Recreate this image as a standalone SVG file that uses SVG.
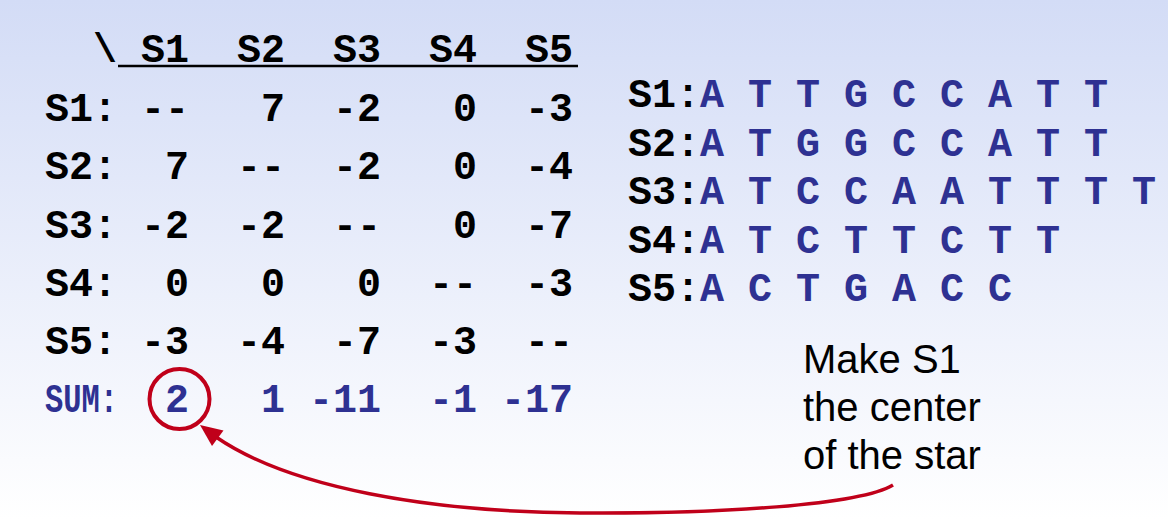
<svg xmlns="http://www.w3.org/2000/svg" width="1168" height="520" viewBox="0 0 1168 520">
<defs>
<linearGradient id="bg" x1="0" y1="0" x2="0" y2="1">
<stop offset="0" stop-color="#D3DCF6"/>
<stop offset="1" stop-color="#FFFFFF"/>
</linearGradient>
<style>
.m{font-family:"Liberation Mono","Courier New",monospace;font-weight:bold;font-size:40px;}
.k{fill:#000000;}
.b{fill:#2E3192;}
.e{text-anchor:end;}
.s{font-family:"Liberation Sans",Arial,sans-serif;font-size:40px;fill:#000000;}
.red{stroke:#C0001A;fill:none;}
</style>
</defs>
<rect x="0" y="0" width="1168" height="520" fill="url(#bg)"/>

<g id="matrix">
<g id="header" class="m k">
<text x="93" y="62">\</text>
<text x="189" y="62" class="e">S1</text>
<text x="285" y="62" class="e">S2</text>
<text x="381" y="62" class="e">S3</text>
<text x="477" y="62" class="e">S4</text>
<text x="573" y="62" class="e">S5</text>
<line x1="118" y1="66" x2="578" y2="66" stroke="#000" stroke-width="2.5"/>
</g>
<g id="row1" class="m k">
<text x="45" y="121">S1:</text>
<text x="189" y="121" class="e">--</text>
<text x="285" y="121" class="e">7</text>
<text x="381" y="121" class="e">-2</text>
<text x="477" y="121" class="e">0</text>
<text x="573" y="121" class="e">-3</text>
</g>
<g id="row2" class="m k">
<text x="45" y="179">S2:</text>
<text x="189" y="179" class="e">7</text>
<text x="285" y="179" class="e">--</text>
<text x="381" y="179" class="e">-2</text>
<text x="477" y="179" class="e">0</text>
<text x="573" y="179" class="e">-4</text>
</g>
<g id="row3" class="m k">
<text x="45" y="237.5">S3:</text>
<text x="189" y="237.5" class="e">-2</text>
<text x="285" y="237.5" class="e">-2</text>
<text x="381" y="237.5" class="e">--</text>
<text x="477" y="237.5" class="e">0</text>
<text x="573" y="237.5" class="e">-7</text>
</g>
<g id="row4" class="m k">
<text x="45" y="296">S4:</text>
<text x="189" y="296" class="e">0</text>
<text x="285" y="296" class="e">0</text>
<text x="381" y="296" class="e">0</text>
<text x="477" y="296" class="e">--</text>
<text x="573" y="296" class="e">-3</text>
</g>
<g id="row5" class="m k">
<text x="45" y="354">S5:</text>
<text x="189" y="354" class="e">-3</text>
<text x="285" y="354" class="e">-4</text>
<text x="381" y="354" class="e">-7</text>
<text x="477" y="354" class="e">-3</text>
<text x="573" y="354" class="e">--</text>
</g>
<g id="sum" class="m b">
<text x="45" y="412" textLength="73" lengthAdjust="spacingAndGlyphs">SUM:</text>
<text x="189" y="412" class="e">2</text>
<text x="285" y="412" class="e">1</text>
<text x="381" y="412" class="e">-11</text>
<text x="477" y="412" class="e">-1</text>
<text x="573" y="412" class="e">-17</text>
</g>
</g>

<g id="sequences" class="m">
<text x="628" y="107"><tspan class="k">S1:</tspan><tspan class="b">A T T G C C A T T</tspan></text>
<text x="628" y="156"><tspan class="k">S2:</tspan><tspan class="b">A T G G C C A T T</tspan></text>
<text x="628" y="204"><tspan class="k">S3:</tspan><tspan class="b">A T C C A A T T T T</tspan></text>
<text x="628" y="253"><tspan class="k">S4:</tspan><tspan class="b">A T C T T C T T</tspan></text>
<text x="628" y="301"><tspan class="k">S5:</tspan><tspan class="b">A C T G A C C</tspan></text>
</g>

<g id="note" class="s">
<text x="803" y="373">Make S1</text>
<text x="803" y="421">the center</text>
<text x="803" y="469">of the star</text>
</g>

<g id="highlight">
<circle cx="179.5" cy="399" r="30" class="red" stroke-width="4"/>
</g>

<g id="connectors">
<path d="M893,485 C860,505 720,514 580,513 C430,512 290,488 216,437" class="red" stroke-width="3.5"/>
<polygon points="200,425 223.5,430.5 212,446" fill="#C0001A"/>
</g>
</svg>
